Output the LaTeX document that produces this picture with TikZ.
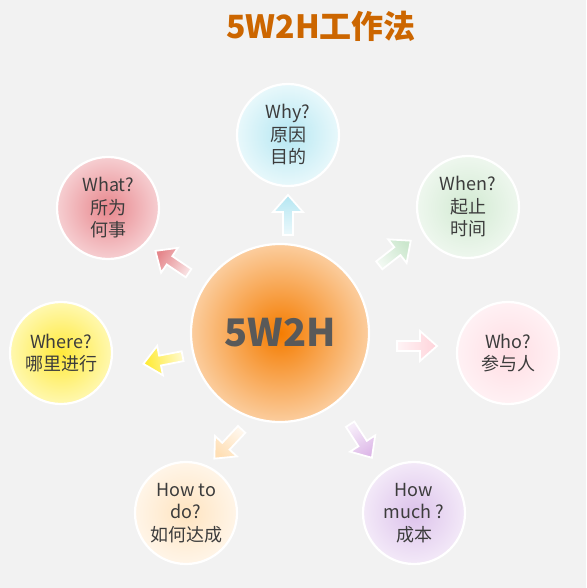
\documentclass[tikz,border=0pt]{standalone}
\usepackage{fontspec}
\setmainfont{Noto Sans CJK SC}
\usetikzlibrary{calc}
\definecolor{bg}{HTML}{F2F2F2}
\definecolor{txt}{HTML}{3C3C3C}
\definecolor{titlec}{HTML}{CC6600}
\definecolor{cin}{HTML}{F57C00}
\definecolor{cout}{HTML}{FBCD9E}
\definecolor{whyin}{HTML}{B5E7F2}
\definecolor{whyout}{HTML}{E8F8FB}
\definecolor{whenin}{HTML}{D2EAD2}
\definecolor{whenout}{HTML}{EEF7EE}
\definecolor{whoin}{HTML}{FFDDE3}
\definecolor{whoout}{HTML}{FFF1F4}
\definecolor{muchin}{HTML}{DCC2EB}
\definecolor{muchout}{HTML}{F3E9F8}
\definecolor{doin}{HTML}{FFE4C0}
\definecolor{doout}{HTML}{FFF5E8}
\definecolor{wherein}{HTML}{FFE93A}
\definecolor{whereout}{HTML}{FFF8B0}
\definecolor{whatin}{HTML}{E8878D}
\definecolor{whatout}{HTML}{F6CED1}
\definecolor{awhy}{HTML}{B4E6F2}
\definecolor{awhen}{HTML}{CBE7CD}
\definecolor{awho}{HTML}{FFD3DA}
\definecolor{amuch}{HTML}{DDB8E8}
\definecolor{ado}{HTML}{FFDFB5}
\definecolor{awhere}{HTML}{FFEA30}
\definecolor{awhat}{HTML}{E5868B}
\tikzset{
  ball/.style={circle, draw=white, line width=2.2pt, inner sep=0pt, align=center,
    text=txt, font=\fontsize{18}{22.5}\selectfont},
  sat/.style 2 args={ball, minimum size=102pt, inner color=#1, outer color=#2},
  barrowpath/.style={draw=white, line width=1.8pt, line join=miter}
}
\newcommand{\blockarrow}[4]{% x,y,angle,color
  \begin{scope}[shift={(#1,#2)}, rotate=#3]
    \path[barrowpath, top color=#4, bottom color=#4!25!white, shading angle=#3-90]
      (-20,-5) -- (3,-5) -- (3,-15) -- (20,0) -- (3,15) -- (3,5) -- (-20,5) -- cycle;
  \end{scope}}
\begin{document}
\begin{tikzpicture}[x=1pt, y=-1pt]
\fill[bg] (0,0) rectangle (586,588);
\useasboundingbox (0,0) rectangle (586,588);
\node[text=titlec, font=\fontsize{32}{36}\selectfont\bfseries] (title) at (321,26) {5W2H工作法};
\node[ball, minimum size=178pt, inner color=cin, outer color=cout, text=black!65,
  font=\fontsize{38}{40}\selectfont\bfseries] (c) at (280,333) {5W2H};
\node[sat={whyin}{whyout}] (why) at (288,135) {Why?\\原因\\目的};
\node[sat={whenin}{whenout}] (when) at (468,207) {When?\\起止\\时间};
\node[sat={whoin}{whoout}] (who) at (508,353) {Who?\\参与人};
\node[sat={muchin}{muchout}] (much) at (414,513) {How\\much ?\\成本};
\node[sat={doin}{doout}] (do) at (186,513) {How to\\do?\\如何达成};
\node[sat={wherein}{whereout}] (where) at (61,353) {Where?\\哪里进行};
\node[sat={whatin}{whatout}] (what) at (108,208) {What?\\所为\\何事};
\blockarrow{288}{215}{90}{awhy}
\blockarrow{395}{253}{38}{awhen}
\blockarrow{417}{346}{0}{awho}
\blockarrow{361}{441}{-57}{amuch}
\blockarrow{228}{444}{-133}{ado}
\blockarrow{163}{360}{191}{awhere}
\blockarrow{172}{262}{146}{awhat}
\end{tikzpicture}
\end{document}
